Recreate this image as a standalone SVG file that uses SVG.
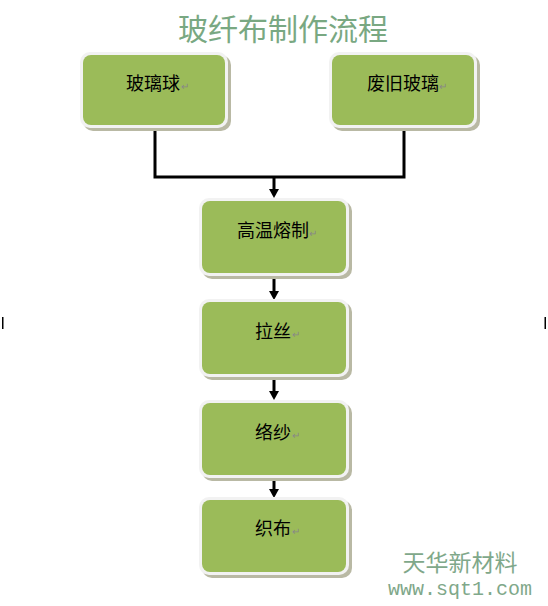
<svg xmlns="http://www.w3.org/2000/svg" width="548" height="606" viewBox="0 0 548 606">
<defs>
<style>
.sh{fill:#b9b9a4}
.bd{fill:#f2f2f2}
.bx{fill:#9bbb59}
.lb{font-family:"Noto Sans CJK SC","Liberation Sans",sans-serif;font-size:18px;fill:#000;text-anchor:middle}
.pm{font-family:"Liberation Sans",sans-serif;font-size:10px;fill:#888}
.ln{stroke:#000;stroke-width:3;fill:none}
</style>
</defs>
<rect x="0" y="0" width="548" height="606" fill="#fff"/>
<text x="283" y="40" font-family="Noto Sans CJK SC,sans-serif" font-size="30" fill="#79a882" text-anchor="middle">玻纤布制作流程</text>
<g id="connectors">
<path class="ln" d="M155,127 V177 H404 V127"/>
<path class="ln" d="M274,177 V190"/>
<path d="M269,189 L279,189 L274,198 Z"/>
<path class="ln" d="M274,275 V292"/>
<path d="M269,291 L279,291 L274,300 Z"/>
<path class="ln" d="M274,375 V392"/>
<path d="M269,391 L279,391 L274,400 Z"/>
<path class="ln" d="M274,475 V490"/>
<path d="M269,489 L279,489 L274,498 Z"/>
</g>
<g id="n1">
<rect class="sh" x="83" y="55" width="148" height="76" rx="10"/>
<rect class="bd" x="80" y="52" width="148" height="76" rx="10"/>
<rect class="bx" x="83" y="55" width="142" height="70" rx="8"/>
<text class="lb" x="153" y="90">玻璃球</text><text class="pm" x="181" y="90">↵</text>
</g>
<g id="n2">
<rect class="sh" x="332" y="55" width="148" height="76" rx="10"/>
<rect class="bd" x="329" y="52" width="148" height="76" rx="10"/>
<rect class="bx" x="332" y="55" width="142" height="70" rx="8"/>
<text class="lb" x="403" y="90">废旧玻璃</text><text class="pm" x="439" y="90">↵</text>
</g>
<g id="n3">
<rect class="sh" x="202" y="201" width="150" height="78" rx="10"/>
<rect class="bd" x="199" y="198" width="150" height="78" rx="10"/>
<rect class="bx" x="202" y="201" width="144" height="72" rx="8"/>
<text class="lb" x="273" y="237">高温熔制</text><text class="pm" x="309" y="237">↵</text>
</g>
<g id="n4">
<rect class="sh" x="202" y="302" width="150" height="78" rx="10"/>
<rect class="bd" x="199" y="299" width="150" height="78" rx="10"/>
<rect class="bx" x="202" y="302" width="144" height="72" rx="8"/>
<text class="lb" x="273" y="338">拉丝</text><text class="pm" x="292" y="338">↵</text>
</g>
<g id="n5">
<rect class="sh" x="202" y="403" width="150" height="78" rx="10"/>
<rect class="bd" x="199" y="400" width="150" height="78" rx="10"/>
<rect class="bx" x="202" y="403" width="144" height="72" rx="8"/>
<text class="lb" x="273" y="439">络纱</text><text class="pm" x="292" y="439">↵</text>
</g>
<g id="n6">
<rect class="sh" x="202" y="500" width="150" height="78" rx="10"/>
<rect class="bd" x="199" y="497" width="150" height="78" rx="10"/>
<rect class="bx" x="202" y="500" width="144" height="72" rx="8"/>
<text class="lb" x="273" y="535">织布</text><text class="pm" x="292" y="535">↵</text>
</g>
<rect x="2" y="317" width="1.5" height="12" fill="#000"/>
<rect x="544.5" y="317" width="1.5" height="12" fill="#000"/>
<text x="460" y="571" font-family="Noto Sans CJK SC,sans-serif" font-size="23" fill="#7fa88a" text-anchor="middle">天华新材料</text>
<text x="460" y="595" font-family="Liberation Mono,monospace" font-size="20" fill="#7fa88a" text-anchor="middle">www.sqt1.com</text>
</svg>
